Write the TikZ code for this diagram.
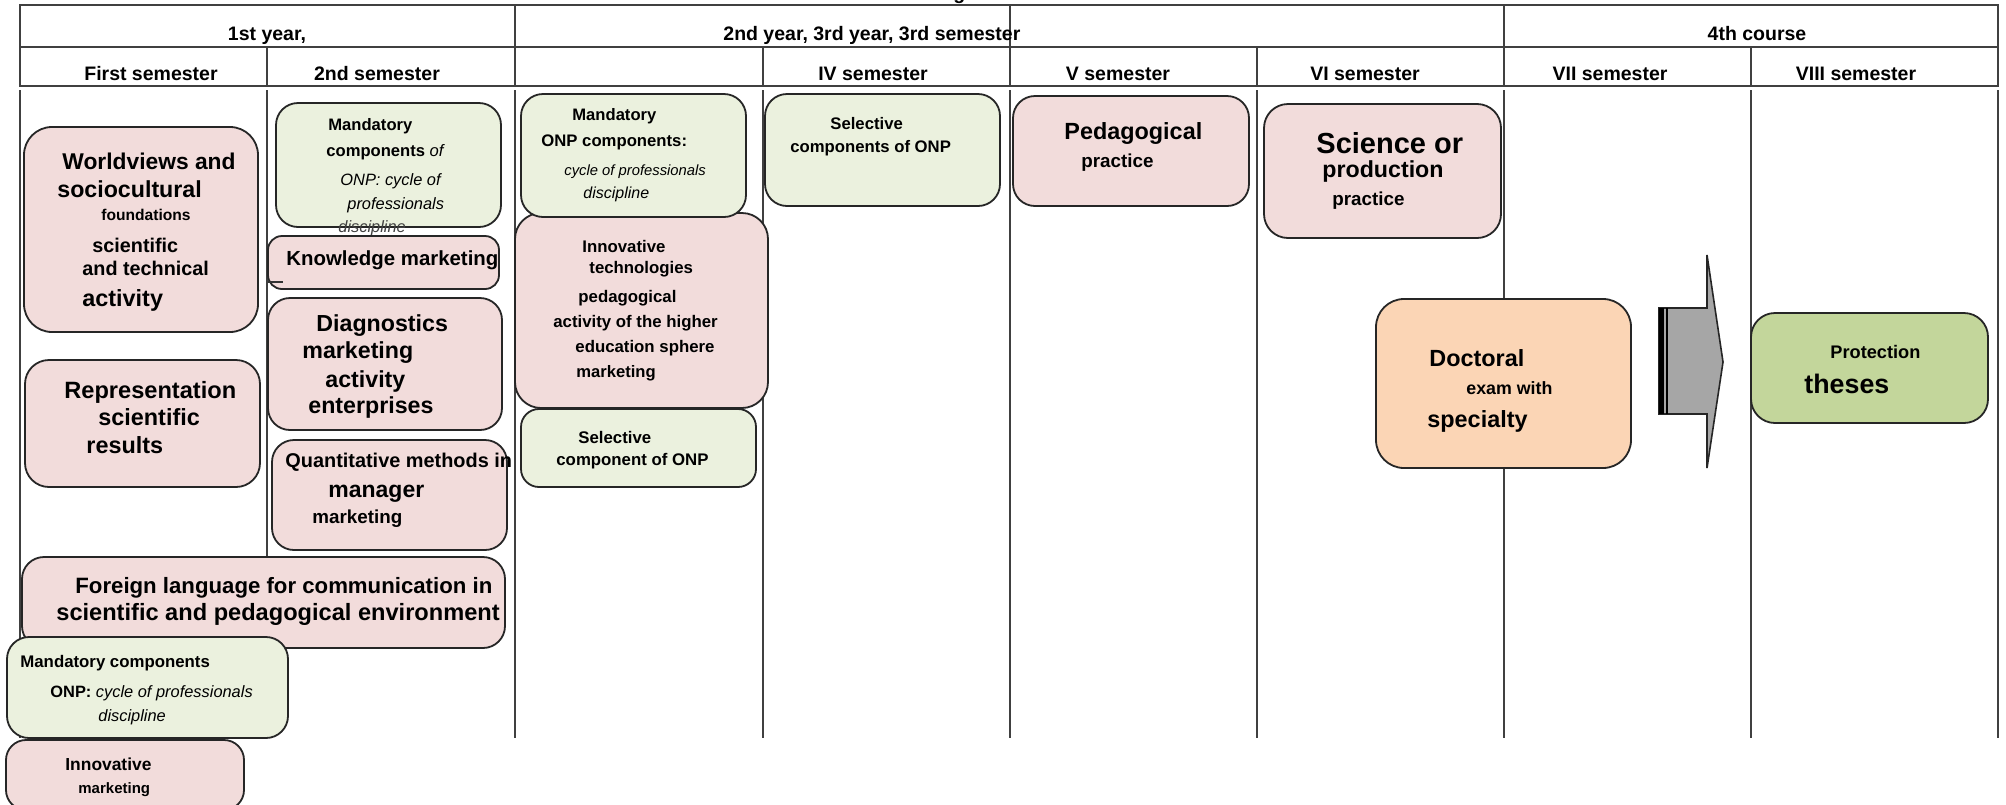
\documentclass[tikz,border=0pt]{standalone}
\usepackage{fontspec}
\setmainfont{Liberation Sans}
\definecolor{pinkfill}{HTML}{F2DCDB}
\definecolor{greenfill}{HTML}{EBF1DE}
\definecolor{orangefill}{HTML}{FBD5B5}
\definecolor{protfill}{HTML}{C3D69B}
\definecolor{arrowgray}{HTML}{A6A6A6}
\newcommand\putline[5]{\node[anchor=base west,inner sep=0pt,font=\bfseries\fontsize{#4}{#4}\selectfont] (#1) at (#2,#3) {#5};}
\newcommand\mkbox[7][10pt]{\node[box,fill=#3,rounded corners=#1,minimum width={(#6-#4)*0.5pt},minimum height={(#7-#5)*0.5pt}] (#2) at ({(#4+#6)/2},{(#5+#7)/2}) {};}
\newcommand\itl{\normalfont\itshape}
\begin{document}
\begin{tikzpicture}[x=0.5pt,y=-0.5pt,
  box/.style={draw=black!85,line width=0.9pt,inner sep=0pt,outer sep=0pt},
  tline/.style={draw=black!75,line width=0.8pt},
  head/.style={anchor=base,inner sep=0pt,font=\bfseries\fontsize{9.75}{9.75}\selectfont}]
\useasboundingbox (0,0) rectangle (2006,804);
\fill[white] (0,0) rectangle (2006,804);
% title remnant
\node[anchor=base west,inner sep=0pt,font=\bfseries\fontsize{9.75}{9.75}\selectfont] (ttl) at (953,-1) {g};
% header table
\draw[tline] (20,5) rectangle (1998,86);
\draw[tline] (20,47) -- (1998,47);
\foreach \x in {515,1010,1504} \draw[tline] (\x,5) -- (\x,86);
\foreach \x in {267,763,1257,1751} \draw[tline] (\x,47) -- (\x,86);
\foreach \x in {20,267,515,763,1010,1257,1504,1751,1998} \draw[tline] (\x,90) -- (\x,738);
\node[head] (h1) at (267,40) {1st year,};
\node[head,anchor=base west] (h2) at (723,40) {2nd year, 3rd year, 3rd semester};
\node[head] (h3) at (1757,40) {4th course};
\node[head] (s1) at (151,80) {First semester};
\node[head] (s2) at (377,80) {2nd semester};
\node[head] (s4) at (873,80) {IV semester};
\node[head] (s5) at (1118,80) {V semester};
\node[head] (s6) at (1365,80) {VI semester};
\node[head] (s7) at (1610,80) {VII semester};
\node[head] (s8) at (1856,80) {VIII semester};
% column 1-2
\mkbox[14pt]{wv}{pinkfill}{24}{127}{258}{332}
\putline{wv1}{62}{169}{11.4}{Worldviews and}
\putline{wv2}{57}{197}{11.6}{sociocultural}
\putline{wv3}{101}{220}{7.8}{foundations}
\putline{wv4}{92}{252}{9.9}{scientific}
\putline{wv5}{82}{275}{9.9}{and technical}
\putline{wv6}{82}{306}{11.7}{activity}
\mkbox[12pt]{rp}{pinkfill}{25}{360}{260}{487}
\putline{rp1}{64}{398}{11.8}{Representation}
\putline{rp2}{98}{425}{11.7}{scientific}
\putline{rp3}{86}{453}{11.7}{results}
\mkbox[11pt]{m2}{greenfill}{276}{103}{501}{227}
\putline{m2a}{328}{130}{8.3}{Mandatory}
\putline{m2b}{326}{156}{8.3}{components \itl of}
\putline{m2c}{340}{185}{8.2}{\itl ONP: cycle of}
\putline{m2d}{347}{209}{8.2}{\itl professionals}
\putline{m2e}{338}{232}{8.2}{\itl\color{black!75}discipline}
\mkbox[7pt]{km}{pinkfill}{268}{236}{499}{289}
\putline{km1}{286}{265}{10.2}{Knowledge marketing}
\coordinate (kmA) at (268,282);
\coordinate (kmB) at (283,282);
\draw[black!80,line width=0.6pt] (kmA) -- (kmB);
\mkbox[11pt]{dg}{pinkfill}{268}{298}{502}{430}
\putline{dg1}{316}{331}{11.6}{Diagnostics}
\putline{dg2}{302}{358}{11.6}{marketing}
\putline{dg3}{325}{387}{11.6}{activity}
\putline{dg4}{308}{413}{11.6}{enterprises}
\mkbox[11pt]{qm}{pinkfill}{272}{440}{507}{550}
\putline{qm1}{285}{467}{9.95}{Quantitative methods in}
\putline{qm2}{328}{497}{11.5}{manager}
\putline{qm3}{312}{523}{9.4}{marketing}
\mkbox[11pt]{fl}{pinkfill}{22}{557}{505}{648}
\putline{fl1}{75}{593}{11.1}{Foreign language for communication in}
\putline{fl2}{56}{620}{11.8}{scientific and pedagogical environment}
\mkbox[11pt]{ml}{greenfill}{7}{637}{288}{738}
\putline{ml1}{20}{667}{8.4}{Mandatory components}
\putline{ml2}{50}{697}{8.2}{ONP: \itl cycle of professionals}
\putline{ml3}{98}{721}{8.2}{\itl discipline}
\mkbox[10pt]{im}{pinkfill}{6}{740}{244}{810}
\putline{im1}{65}{770}{8.7}{Innovative}
\putline{im2}{78}{793}{7.5}{marketing}
% column 3
\mkbox[13pt]{it}{pinkfill}{515}{213}{768}{408}
\putline{it1}{582}{252}{8.4}{Innovative}
\putline{it2}{589}{273}{8.4}{technologies}
\putline{it3}{578}{302}{8.4}{pedagogical}
\putline{it4}{553}{327}{8.4}{activity of the higher}
\putline{it5}{575}{352}{8.4}{education sphere}
\putline{it6}{576}{377}{8.3}{marketing}
\mkbox[11pt]{mo}{greenfill}{521}{94}{746}{217}
\putline{mo1}{572}{120}{8.3}{Mandatory}
\putline{mo2}{541}{146}{8.35}{ONP components:}
\putline{mo3}{564}{175}{7.4}{\itl cycle of professionals}
\putline{mo4}{583}{198}{8.0}{\itl discipline}
\mkbox[9pt]{sc}{greenfill}{521}{409}{756}{487}
\putline{sc1}{578}{443}{8.4}{Selective}
\putline{sc2}{556}{465}{8.4}{component of ONP}
% column IV-VI
\mkbox[11pt]{si}{greenfill}{765}{94}{1000}{206}
\putline{si1}{830}{129}{8.35}{Selective}
\putline{si2}{790}{152}{8.35}{components of ONP}
\mkbox[11pt]{pd}{pinkfill}{1013}{96}{1249}{206}
\putline{pd1}{1064}{139}{11.7}{Pedagogical}
\putline{pd2}{1081}{167}{9.4}{practice}
\mkbox[12pt]{sp}{pinkfill}{1264}{104}{1501}{238}
\putline{sp1}{1316}{153}{14.5}{Science or}
\putline{sp2}{1322}{177}{11.6}{production}
\putline{sp3}{1332}{205}{9.4}{practice}
% VII-VIII
\mkbox[14pt]{dc}{orangefill}{1376}{299}{1631}{468}
\putline{dc1}{1429}{366}{11.7}{Doctoral}
\putline{dc2}{1466}{394}{8.9}{exam with}
\putline{dc3}{1427}{427}{11.7}{specialty}
\draw[fill=arrowgray,draw=black!85,line width=0.8pt,line join=miter]
  (1659,308) -- (1707,308) -- (1707,255) -- (1723,362) -- (1707,468) -- (1707,414) -- (1659,414) -- cycle;
\fill[black] (1659,308) rectangle (1664,414);
\draw[black,line width=1pt] (1667,308) -- (1667,414);
\mkbox[12pt]{pt}{protfill}{1751}{313}{1988}{423}
\putline{pt1}{1830}{358}{9.1}{Protection}
\putline{pt2}{1804}{393}{13.4}{theses}
\end{tikzpicture}
\end{document}
